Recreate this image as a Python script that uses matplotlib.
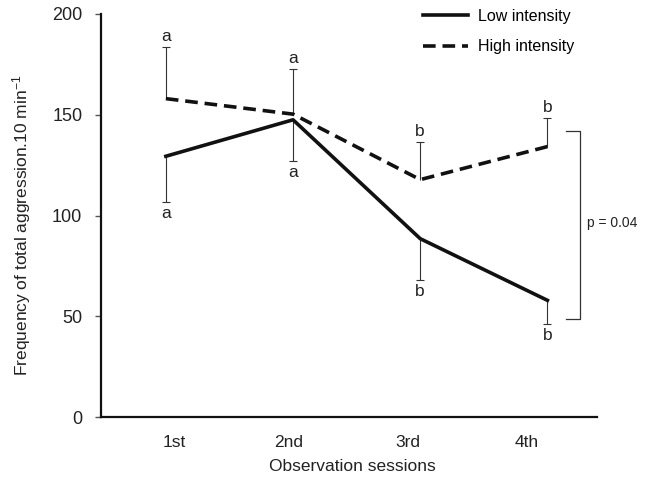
import numpy as np
import matplotlib
matplotlib.use("Agg")
import matplotlib.pyplot as plt

plt.rcParams['font.family'] = ['Liberation Sans', 'DejaVu Sans']
plt.rcParams['mathtext.fontset'] = 'custom'
plt.rcParams['mathtext.rm'] = 'Liberation Sans'

sessions = ['1st', '2nd', '3rd', '4th']
low = [129.4, 147.5, 88.5, 57.9]
low_err = [22.8, 20.3, 20.5, 11.5]
high = [158.0, 150.3, 117.8, 134.2]
high_err = [25.5, 22.5, 18.7, 14.2]
low_letters = ['a', 'a', 'b', 'b']
high_letters = ['a', 'a', 'b', 'b']
p_text = 'p = 0.04'
bracket = [48.5, 142.0]

x = np.arange(1, len(sessions) + 1)
low = np.array(low)
high = np.array(high)

fig = plt.figure(figsize=(6.51, 4.83), dpi=100)
ax = fig.add_axes([101/651, 1-417/483, 496/651, 403/483])

# error bars: one-sided, low goes down, high goes up
ec = '#333333'
ax.vlines(x, low - low_err, low, color=ec, lw=0.8, zorder=2)
ax.plot(x, low - low_err, ls='none', marker='_', ms=6, mew=0.8, color=ec)
ax.vlines(x, high, high + high_err, color=ec, lw=0.8, zorder=2)
ax.plot(x, high + high_err, ls='none', marker='_', ms=6, mew=0.8, color=ec)

ax.plot(x, low, color='#111111', lw=2.6, label='Low intensity', zorder=3)
ax.plot(x, high, color='#111111', lw=2.6, dashes=(3.5, 1.9), label='High intensity', zorder=3)

for xi, v, e, t in zip(x, high, high_err, high_letters):
    ax.annotate(t, (xi, v + e), xytext=(0, 4.5), textcoords='offset points',
                ha='center', va='baseline', fontsize=12.5, color='#222222')
for xi, v, e, t in zip(x, low, low_err, low_letters):
    ax.annotate(t, (xi, v - e), xytext=(0, -3), textcoords='offset points',
                ha='center', va='top', fontsize=12.5, color='#222222')

# significance bracket
bx, barm = 4.26, 4.15
ax.plot([barm, bx, bx, barm], [bracket[1], bracket[1], bracket[0], bracket[0]],
        color='#333333', lw=0.9, clip_on=False)
ax.text(4.31, np.mean(bracket) + 1, p_text, fontsize=10, va='center', ha='left', color='#222222')

ax.set_xlim(0.49, 4.39)
ax.set_ylim(0, 200)
ax.set_yticks([0, 50, 100, 150, 200])
ax.set_xticks([1.063, 1.966, 2.90, 3.84])
ax.set_xticklabels(sessions)
ax.tick_params(axis='x', length=0, pad=13, labelsize=12.5, labelcolor='#222222')
ax.tick_params(axis='y', length=4.5, width=1, color='#555555', pad=9, labelsize=13, labelcolor='#222222')

for s in ['top', 'right']:
    ax.spines[s].set_visible(False)
ax.spines['left'].set_linewidth(1.6)
ax.spines['bottom'].set_linewidth(1.6)
ax.spines['left'].set_color('#111111')
ax.spines['bottom'].set_color('#111111')

ax.set_ylabel('Frequency of total aggression.10 min$\\mathregular{^{-1}}$',
              fontsize=12.5, color='#222222')
ax.yaxis.set_label_coords(-0.137, 0.476)
ax.set_xlabel('Observation sessions', fontsize=12.5, color='#222222')
ax.xaxis.set_label_coords(0.506, -0.104)

ax.legend(loc='upper left', bbox_to_anchor=(423/651, 1-9/483), bbox_transform=fig.transFigure,
          frameon=False, fontsize=11.5, handlelength=2.8, handletextpad=0.62,
          labelspacing=0.95, borderpad=0, borderaxespad=0)

fig.savefig('out.png', dpi=100)
